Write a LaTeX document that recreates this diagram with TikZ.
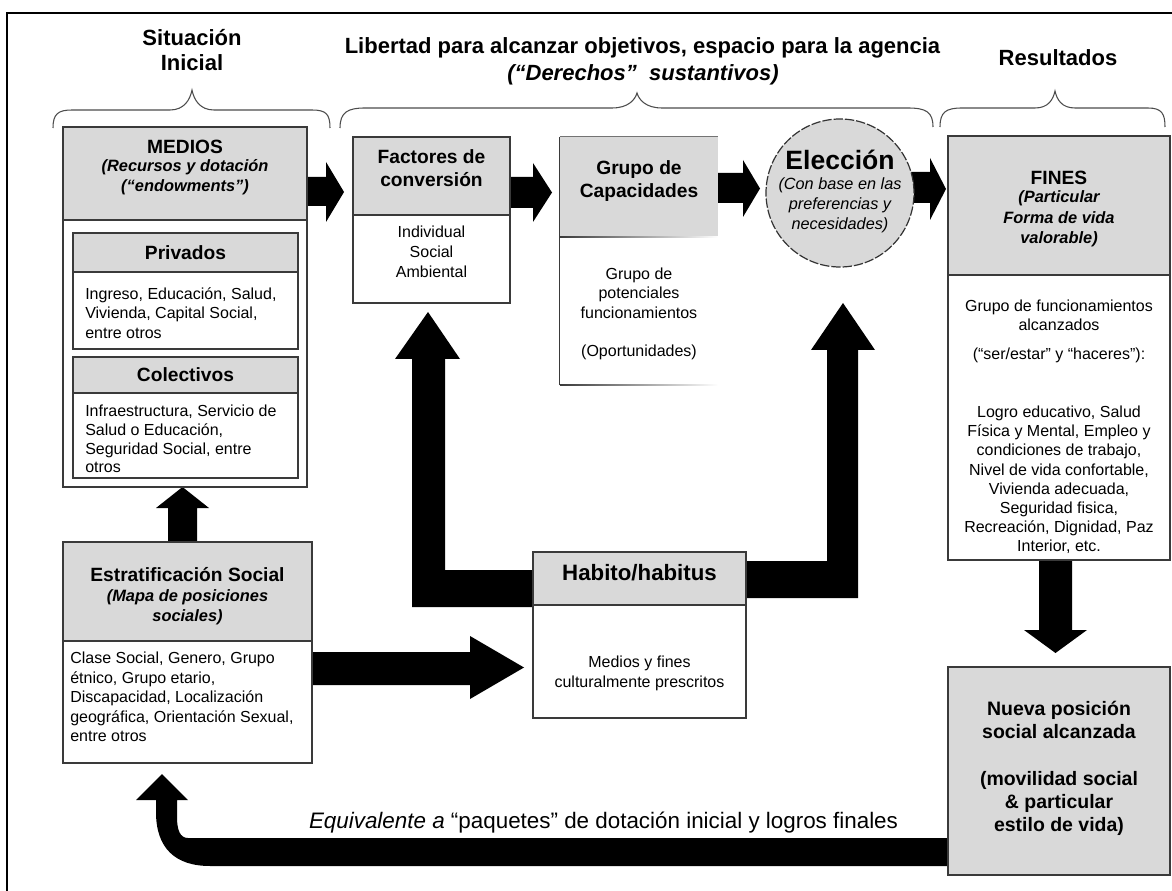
\documentclass[tikz,border=0pt]{standalone}
\usepackage{fontspec}
\setmainfont{Liberation Sans}
\usetikzlibrary{fit}
\definecolor{hgray}{HTML}{D9D9D9}
\definecolor{bcol}{HTML}{3A3A3A}
\begin{document}
\begin{tikzpicture}[x=0.75pt,y=-0.75pt,
  box/.style={draw=bcol,line width=1pt,inner sep=0pt},
  hbox/.style={box,fill=hgray},
  wbox/.style={box,fill=white},
  body/.style={font=\fontsize{12}{14.5}\selectfont,align=center,inner sep=0pt},
  bodyl/.style={body,align=left,anchor=west},
  head/.style={font=\bfseries\fontsize{14.4}{17.25}\selectfont,align=center,inner sep=0pt},
  subh/.style={font=\bfseries\itshape\fontsize{12.3}{15}\selectfont,align=center,inner sep=0pt},
  title/.style={font=\bfseries\fontsize{16.5}{18.75}\selectfont,align=center,inner sep=0pt},
  blk/.style={fill=black},
  brace/.style={draw=black!70,line width=0.8pt}]

\useasboundingbox (0,0) rectangle (1172,891);
\clip (0,0) rectangle (1172,891);
\draw[line width=2pt] (7,13) rectangle (1195,915);

% titles
\node[title] (t1) at (192,50.5) {Situación\\Inicial};
\node[title] (t2) at (642.5,48) {Libertad para alcanzar objetivos, espacio para la agencia};
\node[title,font=\bfseries\itshape\fontsize{16.5}{18.75}\selectfont] (t3) at (643,75) {(“Derechos”\ \ sustantivos)};
\node[title] (t4) at (1058,58) {Resultados};

% braces
\draw[brace] (53,128) .. controls (53,114) and (58,110) .. (72,110) -- (170,110) .. controls (184,110) and (190,100) .. (192,90) .. controls (194,100) and (200,110) .. (214,110) -- (312,110) .. controls (326,110) and (330,114) .. (330,128);
\draw[brace] (340,128) .. controls (340,112) and (348,108) .. (365,108) -- (612,108) .. controls (628,108) and (635,100) .. (637,93) .. controls (639,100) and (646,108) .. (662,108) -- (908,108) .. controls (926,108) and (933,112) .. (933,127);
\draw[brace] (940,127) .. controls (940,112) and (946,108) .. (962,108) -- (1035,108) .. controls (1048,108) and (1053,100) .. (1055,91) .. controls (1057,100) and (1062,108) .. (1075,108) -- (1148,108) .. controls (1162,108) and (1165,114) .. (1165,127);

% block arrows
\fill[blk] (307,177) -- (326,177) -- (326,162) -- (344,192) -- (326,222) -- (326,206) -- (307,206) -- cycle;
\fill[blk] (510,177) -- (533,177) -- (533,163) -- (552,192.5) -- (533,222) -- (533,208) -- (510,208) -- cycle;
\fill[blk] (718,173) -- (743,173) -- (743,160) -- (760,188.5) -- (743,217) -- (743,203) -- (718,203) -- cycle;
\fill[blk] (900,172) -- (930,172) -- (930,158) -- (946,189) -- (930,220) -- (930,203) -- (900,203) -- cycle;
\fill[blk] (168,542) -- (168,508) -- (156,508) -- (182.5,487) -- (209,508) -- (197,508) -- (197,542) -- cycle;
\fill[blk] (312,652) -- (470,652) -- (470,636) -- (524,667.5) -- (470,699) -- (470,685) -- (312,685) -- cycle;
\fill[blk] (533,570) -- (445,570) -- (445,359) -- (460,359) -- (428,312) -- (395,359) -- (412,359) -- (412,607) -- (533,607) -- cycle;
\fill[blk] (746,561) -- (827,561) -- (827,350) -- (811,350) -- (843,303) -- (875,350) -- (858,350) -- (858,598) -- (746,598) -- cycle;
\fill[blk] (1039,560) -- (1039,630) -- (1024,630) -- (1055.5,653) -- (1087,630) -- (1072,630) -- (1072,560) -- cycle;
\fill[blk] (948,838) -- (188,838) .. controls (180,838) and (177,830) .. (177,817) -- (177,800) -- (188,800) -- (162,774) -- (136,800) -- (156,800) -- (156,812) .. controls (156,848) and (175,866) .. (210,866) -- (948,866) -- cycle;

% MEDIOS
\node[hbox,fit={(63,127)(307,220)}] (medH) {};
\node[wbox,fit={(63,220)(307,487)}] (medB) {};
\node[hbox,fit={(73,233)(298,272)}] (privH) {};
\node[wbox,fit={(73,272)(298,349)}] (privB) {};
\node[hbox,fit={(73,357)(298,393)}] (colH) {};
\node[wbox,fit={(73,393)(298,478)}] (colB) {};
\node[head] (medT) at (185,147) {MEDIOS};
\node[subh] (medS) at (185,177) {(Recursos y dotación\\(“endowments”)};
\node[head] (privT) at (185.5,253) {Privados};
\node[bodyl] (privX) at (85,313) {Ingreso, Educación, Salud,\\Vivienda, Capital Social,\\entre otros};
\node[head] (colT) at (185.5,375) {Colectivos};
\node[bodyl,font=\fontsize{12}{14}\selectfont] (colX) at (85,439) {Infraestructura, Servicio de\\Salud o Educación,\\Seguridad Social, entre\\otros};

% Factores
\node[hbox,fit={(353,137)(510,215)}] (facH) {};
\node[wbox,fit={(353,215)(510,303)}] (facB) {};
\node[head] (facT) at (431.5,168.5) {Factores de\\conversión};
\node[body,font=\fontsize{12}{15}\selectfont] (facX) at (431.5,252) {Individual\\Social\\Ambiental};

% Grupo de capacidades
\node[fill=hgray,inner sep=0pt,fit={(560,137)(718,237)}] (grpH) {};
\node[fill=white,inner sep=0pt,fit={(560,237)(718,385)}] (grpB) {};
\draw[bcol,line width=1pt] (grpB.south west) -- (grpH.north west);
\draw[black!55,line width=1pt] (grpH.north west) -- (grpH.north east);
\shade[left color=bcol,middle color=bcol,right color=white] (560,236.3) rectangle (718,237.7);
\shade[left color=bcol,middle color=bcol,right color=white] (560,384.3) rectangle (718,385.7);
\node[head] (grpT) at (639,181.5) {Grupo de\\Capacidades};
\node[body] (grpX) at (639,314) {Grupo de\\potenciales\\funcionamientos\\[14.5pt](Oportunidades)};

% Eleccion
\node[circle,draw=black!80,fill=hgray,dash pattern=on 7pt off 1.5pt,line width=0.9pt,minimum size=111pt,inner sep=0pt] (elec) at (840,193) {};
\node[font=\bfseries\fontsize{19.9}{22}\selectfont,inner sep=0pt] (elecT) at (840,160) {Elección};
\node[font=\itshape\fontsize{12.2}{15}\selectfont,align=center,inner sep=0pt] (elecX) at (840,205) {(Con base en las\\preferencias y\\necesidades)};

% FINES
\node[hbox,fit={(948,136)(1170,275)}] (finH) {};
\node[wbox,fit={(948,275)(1170,560)}] (finB) {};
\node[head] (finT) at (1059,178) {FINES};
\node[subh,font=\bfseries\itshape\fontsize{12.3}{15.5}\selectfont] (finS) at (1059,219) {(Particular\\Forma de vida\\valorable)};
\node[body,font=\fontsize{12}{14.4}\selectfont] (finX) at (1059,427) {Grupo de funcionamientos\\alcanzados\\[7.2pt](“ser/estar” y “haceres”):\\[29pt]Logro educativo, Salud\\Física y Mental, Empleo y\\condiciones de trabajo,\\Nivel de vida confortable,\\Vivienda adecuada,\\Seguridad fisica,\\Recreación, Dignidad, Paz\\Interior, etc.};

% Habitus
\node[hbox,fit={(533,552)(746,605)}] (habH) {};
\node[wbox,fit={(533,605)(746,718)}] (habB) {};
\node[font=\bfseries\fontsize{16.7}{20}\selectfont,inner sep=0pt] (habT) at (639.5,573) {Habito/habitus};
\node[body,font=\fontsize{12}{15}\selectfont] (habX) at (639.5,673) {Medios y fines\\culturalmente prescritos};

% Estratificacion
\node[hbox,fit={(63,542)(312,641)}] (estH) {};
\node[wbox,fit={(63,641)(312,763)}] (estB) {};
\node[head] (estT) at (187.5,575) {Estratificación Social};
\node[subh] (estS) at (187.5,607) {(Mapa de posiciones\\sociales)};
\node[bodyl,font=\fontsize{12}{14.6}\selectfont] (estX) at (70,697) {Clase Social, Genero, Grupo\\étnico, Grupo etario,\\Discapacidad, Localización\\geográfica, Orientación Sexual,\\entre otros};

% Nueva posicion
\node[hbox,fit={(948,667)(1170,875)}] (nue) {};
\node[font=\bfseries\fontsize{14.6}{17.5}\selectfont,align=center,inner sep=0pt] (nueT) at (1059,768.5) {Nueva posición\\social alcanzada\\[17.5pt](movilidad social\\\& particular\\estilo de vida)};

% bottom label
\node[font=\fontsize{16.8}{20}\selectfont,anchor=base,inner sep=0pt] (eqv) at (603.5,828) {\textit{Equivalente a} “paquetes” de dotación inicial y logros finales};
\end{tikzpicture}
\end{document}
